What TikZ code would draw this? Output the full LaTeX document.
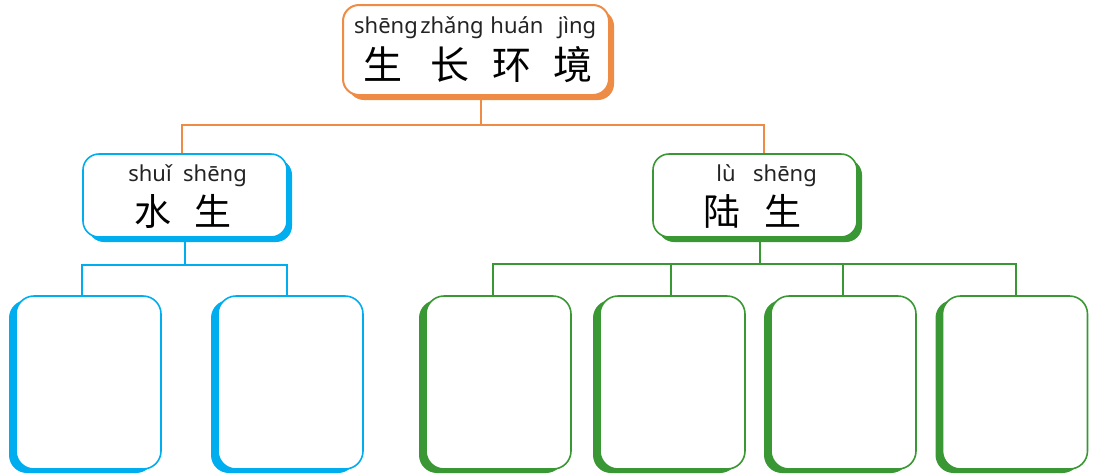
\documentclass[tikz,border=0pt]{standalone}
\usepackage{fontspec}
\setmainfont{Noto Sans}
\newfontfamily\cjk{Noto Sans CJK SC}
\usetikzlibrary{shadows}
\definecolor{rootorange}{RGB}{238, 140, 70}
\definecolor{waterblue}{RGB}{0, 174, 239}
\definecolor{landgreen}{RGB}{58, 152, 52}
\definecolor{ink}{RGB}{35, 35, 35}

\begin{document}
\begin{tikzpicture}
  [
    x=1pt, y=-1pt,
    pinyin/.style={anchor=base, inner sep=0pt, text=ink, font=\fontsize{22}{24}\selectfont},
    hanzi/.style={anchor=base, inner sep=0pt, text=black, font=\cjk\fontsize{37}{40}\selectfont},
    card/.style={fill=white, inner sep=0pt},
    rootbox/.style={card, draw=rootorange, line width=2pt, rounded corners=16pt,
      minimum width=266pt, minimum height=90pt,
      drop shadow={shadow xshift=5pt, shadow yshift=-5pt, fill=rootorange, opacity=1}},
    groupbox/.style={card, line width=1.6pt, rounded corners=16pt,
      minimum width=204pt, minimum height=83pt,
      drop shadow={shadow xshift=5pt, shadow yshift=-5pt, fill=#1, opacity=1}, draw=#1},
    leafbox/.style={card, line width=1.6pt, rounded corners=18pt,
      minimum width=145pt, minimum height=173pt,
      drop shadow={shadow xshift=-7pt, shadow yshift=-4pt, fill=#1, opacity=1}, draw=#1},
    link/.style={line width=1.5pt, #1}
  ]
  \useasboundingbox (0,0) rectangle (1094,475);

  % root
  \node[rootbox] (root) at (476,50) {};
  \foreach \px/\hx/\p/\h [count=\i] in {386/383/shēng/生, 452/450/zhǎng/长, 517/512/huán/环, 577/573/jìng/境}
  {
    \node[pinyin] (rootpy\i) at (\px,33) {\p};
    \node[hanzi, font=\cjk\fontsize{39}{40}\selectfont] (roothz\i) at (\hx,79) {\h};
  }

  % second level
  \node[groupbox=waterblue] (water) at (185,195.5) {};
  \node[pinyin] (waterpy1) at (150,181) {shuǐ};
  \node[pinyin] (waterpy2) at (215,181) {shēng};
  \node[hanzi] (waterhz1) at (153,225.5) {水};
  \node[hanzi] (waterhz2) at (213,225.5) {生};

  \node[groupbox=landgreen] (land) at (755,195.5) {};
  \node[pinyin] (landpy1) at (726,181) {lù};
  \node[pinyin] (landpy2) at (785,181) {shēng};
  \node[hanzi] (landhz1) at (722,225.5) {陆};
  \node[hanzi] (landhz2) at (783,225.5) {生};

  % empty leaves
  \node[leafbox=waterblue] (w1) at (88.5,382.5) {};
  \node[leafbox=waterblue] (w2) at (290.5,382.5) {};
  \node[leafbox=landgreen] (l1) at (498.5,382.5) {};
  \node[leafbox=landgreen] (l2) at (672.5,382.5) {};
  \node[leafbox=landgreen] (l3) at (843.5,382.5) {};
  \node[leafbox=landgreen] (l4) at (1015,382.5) {};

  % connectors
  \draw[link=rootorange] ([xshift=5pt]root.south) -- ++(0,29) coordinate (rootbar);
  \draw[link=rootorange] ([xshift=-3pt]water.north) |- (rootbar) -| ([xshift=9pt]land.north);

  \draw[link=waterblue] (water.south) -- ++(0,27) coordinate (waterbar);
  \draw[link=waterblue] ([xshift=-6.5pt]w1.north) |- (waterbar) -| ([xshift=-3.5pt]w2.north);

  \draw[link=landgreen] ([xshift=5pt]land.south) -- ++(0,26) coordinate (landbar);
  \draw[link=landgreen] ([xshift=-5.5pt]l1.north) |- (landbar) -| ([xshift=1pt]l4.north);
  \draw[link=landgreen] ([xshift=-1.5pt]l2.north) -- ([xshift=-1.5pt]l2.north |- landbar);
  \draw[link=landgreen] ([xshift=-0.5pt]l3.north) -- ([xshift=-0.5pt]l3.north |- landbar);
\end{tikzpicture}
\end{document}
